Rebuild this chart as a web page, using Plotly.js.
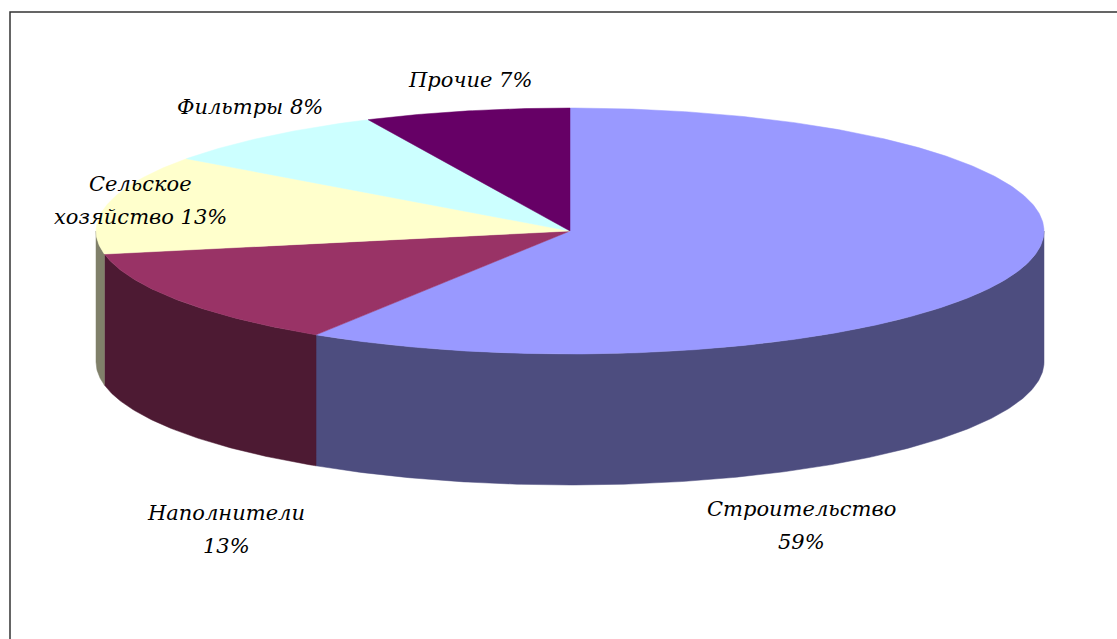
<!DOCTYPE html>
<html>
<head>
<meta charset="utf-8">
<script src="https://cdn.plot.ly/plotly-3.0.1.min.js"></script>
<style>
  html, body { margin: 0; padding: 0; background: #ffffff; }
  #chart { width: 1117px; height: 639px; }
</style>
</head>
<body>
<div id="chart"></div>
<script>
// ---- data ----
const categories = ['Строительство', 'Наполнители', 'Сельское хозяйство', 'Фильтры', 'Прочие'];
const values = [59, 13, 13, 8, 7];
const labelTexts = ['Строительство<br>59%', 'Наполнители<br>13%', 'Сельское<br>хозяйство 13%', 'Фильтры 8%', 'Прочие 7%'];

// ---- styles ----
const topColors  = ['#9999FF', '#993366', '#FFFFCC', '#CCFFFF', '#660066'];
const sideColors = ['#4D4D7F', '#4D1A33', '#80806A', '#668080', '#330033'];
const labelFont = { family: 'DejaVu Serif', size: 21, color: '#000000', style: 'italic' };

// ---- geometry (pixel-like data space) ----
const W = 1117, H = 639;
const geo = { cx: 570, cy: 231, rx: 474, ry: 123, depth: 131 };
const lineGap = 33;
// centre of first line of each label
const labelPos = [
  { x: 801, y: 509 },
  { x: 226, y: 513 },
  { x: 140, y: 184 },
  { x: 250, y: 107 },
  { x: 470, y: 80 }
];

function pt(theta, dy) {
  return [geo.cx + geo.rx * Math.sin(theta), geo.cy - geo.ry * Math.cos(theta) + dy];
}
function arc(a0, a1, dy) {
  const n = Math.max(2, Math.ceil(Math.abs(a1 - a0) / (Math.PI / 360)));
  const xs = [], ys = [];
  for (let i = 0; i <= n; i++) {
    const t = a0 + (a1 - a0) * i / n;
    const p = pt(t, dy);
    xs.push(p[0]); ys.push(p[1]);
  }
  return [xs, ys];
}

const total = values.reduce((a, b) => a + b, 0);
const slices = [];
let acc = 0;
values.forEach((v, i) => {
  const a0 = acc / total * 2 * Math.PI;
  acc += v;
  const a1 = acc / total * 2 * Math.PI;
  slices.push({ i, a0, a1 });
});

const sideTraces = [], topTraces = [];
slices.forEach(s => {
  // visible side wall: front half only
  const s0 = Math.max(s.a0, Math.PI / 2), s1 = Math.min(s.a1, 3 * Math.PI / 2);
  if (s1 > s0) {
    const [tx, ty] = arc(s0, s1, 0);
    const [bx, by] = arc(s1, s0, geo.depth);
    sideTraces.push({
      type: 'scatter', mode: 'lines',
      x: tx.concat(bx, [tx[0]]), y: ty.concat(by, [ty[0]]),
      fill: 'toself', fillcolor: sideColors[s.i],
      line: { color: sideColors[s.i], width: 0.5 },
      hoverinfo: 'skip', showlegend: false, name: categories[s.i]
    });
  }
  const [ax, ay] = arc(s.a0, s.a1, 0);
  topTraces.push({
    type: 'scatter', mode: 'lines',
    x: [geo.cx].concat(ax, [geo.cx]), y: [geo.cy].concat(ay, [geo.cy]),
    fill: 'toself', fillcolor: topColors[s.i],
    line: { color: topColors[s.i], width: 0.5 },
    hoverinfo: 'skip', showlegend: false, name: categories[s.i]
  });
});

const annotations = [];
labelTexts.forEach((t, i) => {
  t.split('<br>').forEach((line, k) => {
    annotations.push({
      x: labelPos[i].x, y: labelPos[i].y + k * lineGap, xref: 'x', yref: 'y',
      text: line, showarrow: false, xanchor: 'center', yanchor: 'middle', align: 'center',
      font: labelFont
    });
  });
});

const layout = {
  width: W, height: H,
  margin: { l: 0, r: 0, t: 0, b: 0, pad: 0 },
  paper_bgcolor: '#ffffff', plot_bgcolor: '#ffffff',
  xaxis: { range: [0, W], visible: false, fixedrange: true },
  yaxis: { range: [H, 0], visible: false, fixedrange: true },
  showlegend: false,
  annotations: annotations,
  shapes: [{
    type: 'rect', xref: 'x', yref: 'y', x0: 10, y0: 12, x1: W + 20, y1: H + 20,
    line: { color: '#333333', width: 1.5 }, fillcolor: 'rgba(0,0,0,0)', layer: 'below'
  }]
};

Plotly.newPlot('chart', sideTraces.concat(topTraces), layout, { staticPlot: true, displayModeBar: false });
</script>
</body>
</html>
